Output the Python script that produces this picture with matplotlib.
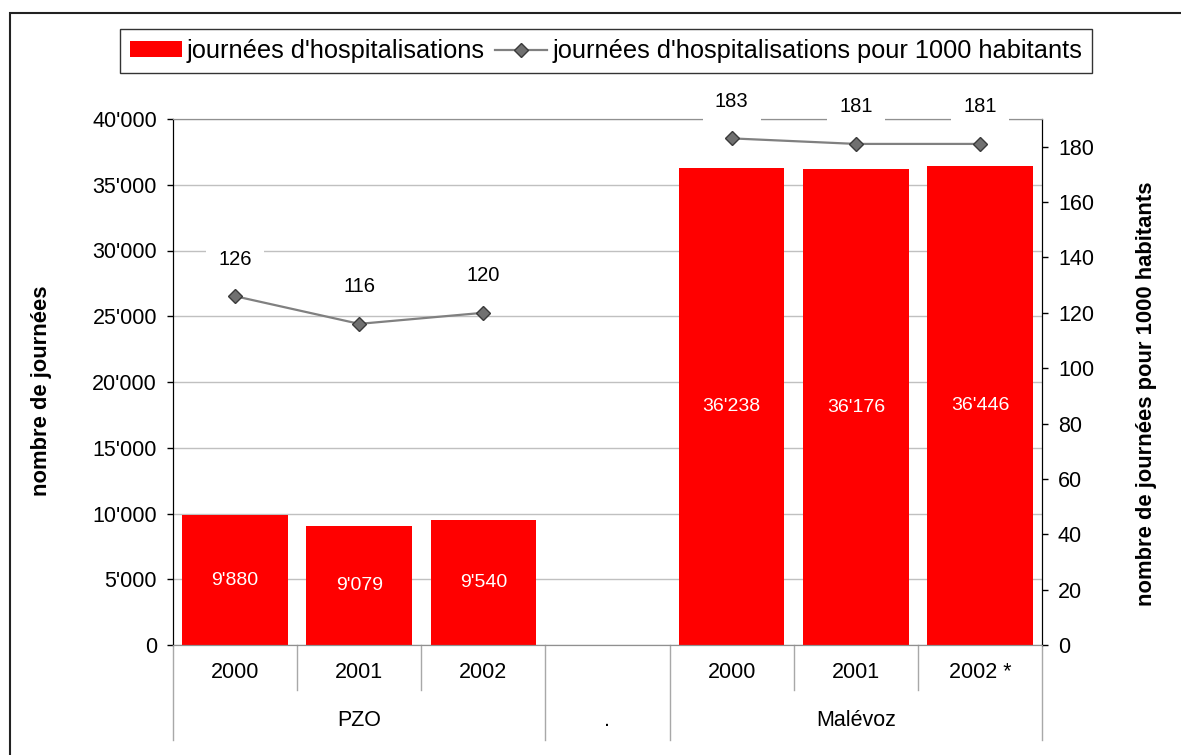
import numpy as np
import matplotlib
matplotlib.use("Agg")
import matplotlib.pyplot as plt
from matplotlib.patches import Rectangle, Patch
from matplotlib.lines import Line2D

plt.rcParams['font.family'] = ['Liberation Sans', 'DejaVu Sans']

# ---- data ----
years = ['2000', '2001', '2002', '', '2000', '2001', '2002 *']
groups = ['PZO', '.', 'Malévoz']
group_spans = [(0, 3), (3, 4), (4, 7)]
journees = [9880, 9079, 9540, np.nan, 36238, 36176, 36446]
par_1000 = [126, 116, 120, np.nan, 183, 181, 181]

legend_bar = "journées d'hospitalisations"
legend_line = "journées d'hospitalisations pour 1000 habitants"
ylabel_left = "nombre de journées"
ylabel_right = "nombre de journées pour 1000 habitants"


def fmt_thousands(v):
    return f"{v:,.0f}".replace(",", "'")


W, H = 1181, 755
fig = plt.figure(figsize=(W / 100, H / 100), dpi=100)

# outer frame of the chart
fig.patches.append(Rectangle((10 / W, -0.05), 1.1, 1 - 13 / H + 0.05,
                             transform=fig.transFigure, fill=False,
                             edgecolor='#222222', linewidth=1.5))

ax = fig.add_axes([173 / W, 110 / H, 869 / W, 526 / H])
ax2 = ax.twinx()

x = np.arange(len(years))
ax.set_xlim(-0.5, len(years) - 0.5)
ax.set_ylim(0, 40000)
ax2.set_ylim(0, 190)

TICK_FS = 15.5

# bars
bars = ax.bar(x, journees, width=0.85, color='#ff0000', zorder=2)
for xi, v in zip(x, journees):
    if not np.isnan(v):
        ax.text(xi, v / 2, fmt_thousands(v), ha='center', va='center',
                color='white', fontsize=14, zorder=3)

# grid and axes
ax.set_axisbelow(True)
ax.yaxis.grid(True, color='#c0c0c0', linewidth=1)
ax.set_yticks(np.arange(0, 40001, 5000))
ax.set_yticklabels([fmt_thousands(v) for v in np.arange(0, 40001, 5000)])
ax.set_xticks([])
ax.tick_params(axis='y', direction='out', length=4.5, width=1, pad=7,
               labelsize=TICK_FS, colors='black')
ax2.set_yticks(np.arange(0, 181, 20))
ax2.tick_params(axis='y', direction='out', length=4.5, width=1, pad=7,
                labelsize=TICK_FS, colors='black')

for a in (ax, ax2):
    a.spines['top'].set_color('#909090')
    a.spines['bottom'].set_color('#909090')
    a.spines['left'].set_color('black')
    a.spines['right'].set_color('black')

ax.set_ylabel(ylabel_left, fontsize=15.8, fontweight='bold')
ax.yaxis.set_label_coords(-0.1395, 0.484)
ax2.set_ylabel(ylabel_right, fontsize=15.8, fontweight='bold', rotation=90)
ax2.yaxis.set_label_coords(1.108, 0.478)

# line series
ax2.plot(x, par_1000, color='#808080', linewidth=1.6, marker='D',
         markersize=7, markerfacecolor='#707070', markeredgecolor='#3a3a3a',
         markeredgewidth=1, zorder=5)
for xi, v in zip(x, par_1000):
    if not np.isnan(v):
        ax2.annotate(f"{v:.0f}", (xi, v), xytext=(0, 37),
                     textcoords='offset pixels', ha='center', va='center',
                     fontsize=14.5, annotation_clip=False,
                     bbox=dict(boxstyle='square,pad=0.6', facecolor='white',
                               edgecolor='none'))

# multi-level category axis
row1 = 45 / 526
row2 = 95 / 526
trans = ax.get_xaxis_transform()
boundaries = np.arange(len(years) + 1) - 0.5
group_edges = {s for s, _ in group_spans} | {e for _, e in group_spans}
for i, b in enumerate(boundaries):
    depth = row2 if i in group_edges else row1
    ax.plot([b, b], [0, -depth], transform=trans, color='#a8a8a8',
            linewidth=1, clip_on=False)
for xi, lab in zip(x, years):
    ax.text(xi, -27 / 526, lab, transform=trans, ha='center', va='center',
            fontsize=TICK_FS)
for (s, e), g in zip(group_spans, groups):
    ax.text((s + e - 1) / 2, -75 / 526, g, transform=trans, ha='center',
            va='center', fontsize=TICK_FS)

# legend
handles = [Patch(facecolor='#ff0000', edgecolor='none'),
           Line2D([], [], color='#808080', linewidth=1.6, marker='D',
                  markersize=7, markerfacecolor='#707070',
                  markeredgecolor='#3a3a3a')]
leg = fig.legend(handles, [legend_bar, legend_line], loc='center',
                 bbox_to_anchor=(606 / W, 1 - 51 / H), ncol=2, fontsize=18.3,
                 frameon=True, fancybox=False, handlelength=2.05,
                 handleheight=0.55, handletextpad=0.2, columnspacing=0.4,
                 borderpad=0.38, borderaxespad=0)
leg.get_frame().set_edgecolor('black')
leg.get_frame().set_linewidth(1)

fig.savefig('out.png', dpi=100)
